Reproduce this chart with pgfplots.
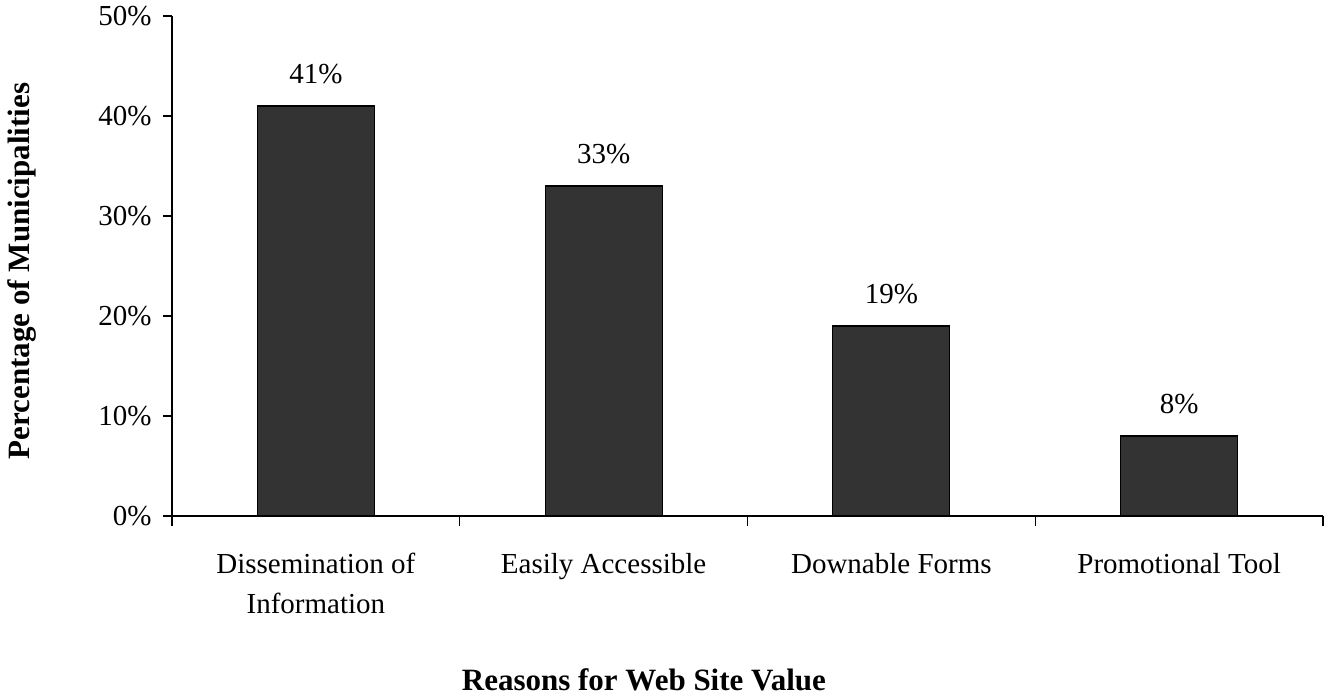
\documentclass[border=0pt]{standalone}
\usepackage{fontspec}
\setmainfont{Liberation Serif}
\usepackage{pgfplots}
\pgfplotsset{compat=1.18}
\definecolor{barfill}{HTML}{333333}

\begin{document}
\begin{tikzpicture}[font=\fontsize{29bp}{40bp}\selectfont]
\begin{axis}[
    at={(0,0)}, anchor=south west,
    scale only axis, width=1151bp, height=500bp,
    xmin=0, xmax=4, ymin=0, ymax=50,
    axis x line*=bottom, axis y line*=left,
    axis line style={line width=1.2bp},
    tick align=outside,
    major tick length=9bp, minor tick length=10bp,
    tick style={black, line width=1.2bp},
    major x tick style={draw=none},
    xtick={0.5,1.5,2.5,3.5},
    minor xtick={0,1,2,3,4},
    xticklabels={{Dissemination of\\Information},{Easily Accessible},{Downable Forms},{Promotional Tool}},
    xticklabel style={align=center, anchor=north, yshift=-25bp},
    ytick={0,10,20,30,40,50},
    yticklabels={0\%,10\%,20\%,30\%,40\%,50\%},
    yticklabel style={anchor=east, xshift=-8bp},
    /pgf/number format/assume math mode=true,
    every axis y label/.style={at={(axis description cs:-0.13,0.49)}, rotate=90, anchor=center,
        font=\fontsize{31bp}{36bp}\selectfont\bfseries},
    every axis x label/.style={at={(axis description cs:0.41,-0.348)}, anchor=base,
        font=\fontsize{31bp}{36bp}\selectfont\bfseries},
    ylabel={Percentage of Municipalities},
    xlabel={Reasons for Web Site Value},
]
\addplot[ybar, bar width=117bp, fill=barfill, draw=black, line width=1.2bp,
    nodes near coords={\pgfmathprintnumber{\pgfplotspointmeta}\%},
    every node near coord/.append style={anchor=base, yshift=23bp}]
    coordinates {(0.5,41) (1.5,33) (2.5,19) (3.5,8)};
\end{axis}
\pgfresetboundingbox
\path (-172bp,-180bp) rectangle (1153bp,516bp);
\end{tikzpicture}
\end{document}
